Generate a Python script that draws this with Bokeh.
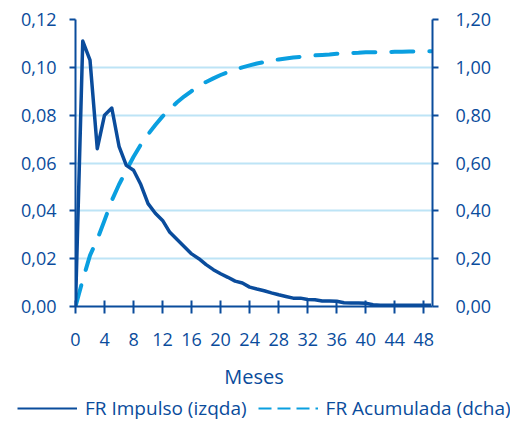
from bokeh.plotting import figure
from bokeh.layouts import column
from bokeh.models import (Range1d, LinearAxis, FixedTicker, CustomJSTickFormatter,
                          Legend, LegendItem, ColumnDataSource)
from bokeh.embed import file_html
from bokeh.resources import INLINE

# ---- data ----
meses = list(range(0, 50))
fr_impulso = [0.000, 0.111, 0.103, 0.066, 0.080, 0.083, 0.067, 0.059, 0.057, 0.051,
              0.043, 0.039, 0.036, 0.031, 0.028, 0.025, 0.022, 0.020, 0.0175, 0.0154,
              0.0137, 0.0122, 0.0106, 0.0098, 0.0081, 0.0073, 0.0066, 0.0057, 0.0049, 0.0042,
              0.0035, 0.0035, 0.0029, 0.0028, 0.0023, 0.0023, 0.0022, 0.0016, 0.0015, 0.0015,
              0.0014, 0.0007, 0.0005, 0.0005, 0.0005, 0.0005, 0.0005, 0.0005, 0.0005, 0.0005]
fr_acumulada = [0.000, 0.111, 0.214, 0.280, 0.360, 0.443, 0.510, 0.569, 0.626, 0.677,
                0.720, 0.759, 0.795, 0.826, 0.854, 0.879, 0.901, 0.921, 0.939, 0.954,
                0.968, 0.980, 0.990, 1.000, 1.008, 1.016, 1.022, 1.028, 1.033, 1.037,
                1.041, 1.044, 1.047, 1.050, 1.052, 1.054, 1.057, 1.058, 1.060, 1.061,
                1.063, 1.063, 1.064, 1.064, 1.065, 1.065, 1.066, 1.066, 1.067, 1.067]
x_ticks = list(range(0, 49, 4))
y_left_ticks = [0.0, 0.02, 0.04, 0.06, 0.08, 0.10, 0.12]
y_right_ticks = [0.0, 0.2, 0.4, 0.6, 0.8, 1.0, 1.2]
label_impulso = "FR Impulso (izqda)"
label_acumulada = "FR Acumulada (dcha)"
x_label = "Meses"

DARK = "#0a4c9c"
LIGHT = "#0a9fe0"
GRID = "#bde4f6"
FONT = "Open Sans"
FS_TICK = "18px"
FS_LABEL = "20px"
FS_LEG = "19px"

src = ColumnDataSource(dict(x=meses, imp=fr_impulso, acu=fr_acumulada))

p = figure(width=510, height=395, output_backend="svg", toolbar_location=None,
           x_range=Range1d(0, 49.2), y_range=Range1d(0, 0.12),
           min_border_left=75, min_border_right=78, min_border_top=19, min_border_bottom=89)
p.frame_align = False
p.extra_y_ranges = {"acum": Range1d(0, 1.2)}
p.outline_line_color = None
p.background_fill_color = "white"
p.border_fill_color = "white"

p.xgrid.grid_line_color = None
p.ygrid.grid_line_color = GRID
p.ygrid.grid_line_width = 2
p.ygrid.ticker = FixedTicker(ticks=y_left_ticks)

fmt2 = CustomJSTickFormatter(code="return tick.toFixed(2).replace('.', ',');")

def style_axis(ax):
    ax.axis_line_color = DARK
    ax.axis_line_width = 2
    ax.major_tick_line_color = DARK
    ax.major_tick_line_width = 2
    ax.minor_tick_line_color = None
    ax.major_label_text_color = DARK
    ax.major_label_text_font = FONT
    ax.major_label_text_font_size = FS_TICK
    ax.axis_label_text_color = DARK
    ax.axis_label_text_font = FONT
    ax.axis_label_text_font_size = FS_LABEL
    ax.axis_label_text_font_style = "normal"

xa = p.xaxis[0]
style_axis(xa)
xa.ticker = FixedTicker(ticks=x_ticks)
xa.major_tick_in = 6
xa.major_tick_out = 7
xa.major_label_standoff = 19
xa.axis_label = x_label
xa.axis_label_standoff = 14

ya = p.yaxis[0]
style_axis(ya)
ya.ticker = FixedTicker(ticks=y_left_ticks)
ya.formatter = fmt2
ya.major_tick_in = 0
ya.major_tick_out = 6
ya.major_label_standoff = 13

ra = LinearAxis(y_range_name="acum")
style_axis(ra)
ra.ticker = FixedTicker(ticks=y_right_ticks)
ra.formatter = fmt2
ra.major_tick_in = 0
ra.major_tick_out = 6
ra.major_label_standoff = 17
p.add_layout(ra, "right")

r_acu = p.line("x", "acu", source=src, y_range_name="acum", line_color=LIGHT,
               line_width=4, line_dash="22 16", line_cap="round", line_join="round")
r_imp = p.line("x", "imp", source=src, line_color=DARK, line_width=3.5, line_join="round")

# ---- legend strip below the chart ----
pl = figure(width=510, height=26, output_backend="svg", toolbar_location=None,
            x_range=Range1d(0, 1), y_range=Range1d(0, 1),
            x_axis_location=None, y_axis_location=None,
            min_border=0, min_border_left=0, min_border_right=0,
            min_border_top=0, min_border_bottom=0, outline_line_color=None)
pl.frame_align = False
pl.grid.grid_line_color = None
# legend swatches only (placed outside the visible range)
l_imp = pl.line(x=[5, 6], y=[5, 6], line_color=DARK, line_width=2)
l_acu = pl.line(x=[5, 6], y=[5, 6], line_color=LIGHT, line_width=2, line_dash="13 6")
legend = Legend(items=[LegendItem(label=label_impulso, renderers=[l_imp]),
                       LegendItem(label=label_acumulada, renderers=[l_acu])],
                orientation="horizontal", location=(17, 0),
                glyph_width=60, glyph_height=16, label_standoff=8, spacing=11,
                padding=0, margin=0, border_line_color=None, background_fill_alpha=0,
                label_text_color=DARK, label_text_font=FONT, label_text_font_size=FS_LEG)
pl.add_layout(legend, "center")

open("out.html", "w").write(file_html(column(p, pl), INLINE))
